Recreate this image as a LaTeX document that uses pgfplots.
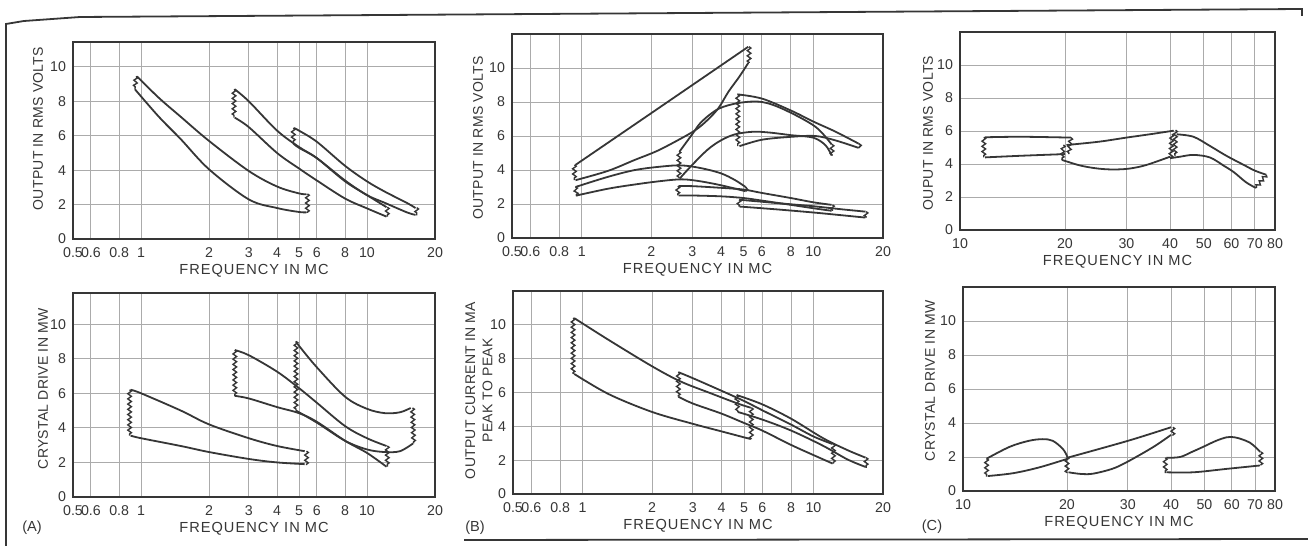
\documentclass[border=0pt]{standalone}
\usepackage{fontspec}
\setmainfont{Liberation Sans}
\usepackage{pgfplots}
\pgfplotsset{compat=1.18}
\usetikzlibrary{decorations.pathmorphing}
\definecolor{ink}{HTML}{363636}
\definecolor{gridc}{HTML}{ABABAB}
\newfontfamily\xlabfont[LetterSpace=7]{Liberation Sans}
\newfontfamily\ylabfont[LetterSpace=2]{Liberation Sans}
\pgfplotsset{
  panel/.style={
    scale only axis, ymin=0,
    axis line style={draw=ink, line width=0.75pt},
    grid=major, major grid style={draw=gridc, line width=0.45pt},
    major tick length=0pt, minor tick length=0pt,
    ytick={0,2,4,6,8,10}, yticklabels={0,2,4,6,8,10},
    tick label style={font=\fontsize{7.1}{7.5}\selectfont, text=ink},
    xlabel style={font=\xlabfont\fontsize{7.3}{8.6}\selectfont, text=ink,
      at={(axis description cs:0.5,0)}, anchor=center, yshift=-15.8pt},
    ylabel style={font=\ylabfont\fontsize{7}{8.6}\selectfont, text=ink},
    xticklabel style={yshift=-0.8pt},
  },
  lowx/.style={xmin=0.5, xmax=20, xtick={0.5,0.6,0.8,1,2,3,4,5,6,8,10,20},
    xticklabels={0.5,0.6,0.8,1,2,3,4,5,6,8,10,20}},
  highx/.style={xmin=10, xmax=80, xtick={10,20,30,40,50,60,70,80},
    xticklabels={10,20,30,40,50,60,70,80}},
  crv/.style={draw=ink, line width=0.9pt, smooth, tension=0.55, mark=none},
  zz/.style={draw=ink, line width=0.7pt, mark=none, decorate,
    decoration={zigzag, segment length=2.6pt, amplitude=0.9pt}},
  sh/.style={draw=ink, line width=0.8pt, sharp plot, mark=none},
}
\begin{document}
\begin{tikzpicture}
\path[use as bounding box] (0,0) rectangle (654pt,273pt);
% outer frame of the page
\draw[ink, line width=0.9pt] (3pt,0pt) -- (3pt,261pt) -- (12pt,262.5pt) -- (40pt,264.5pt) -- (651pt,268.5pt) -- (651pt,265pt);
\draw[ink, line width=0.9pt] (232pt,3pt) -- (654pt,3.5pt);

% ---------------- Top left ----------------
\begin{semilogxaxis}[panel, lowx, at={(36.5pt,153.5pt)}, anchor=south west,
  width=181pt, height=98.5pt, ymax=11.45,
  xlabel={FREQUENCY IN MC}, ylabel={OUTPUT IN RMS VOLTS},
  ylabel style={at={([xshift=-17.5pt]axis description cs:0,0.56)}, anchor=center}]
\addplot[crv] coordinates {(0.96,9.45) (1.2,8.2) (1.5,7.1) (2,5.7) (3,3.95) (4,3.05) (5,2.65) (5.4,2.6)};
\addplot[crv] coordinates {(0.94,8.7) (1.2,7.1) (1.5,5.8) (2,4.05) (3,2.3) (4,1.8) (5,1.57) (5.4,1.55)};
\addplot[zz] coordinates {(0.95,9.45) (0.94,8.7)};
\addplot[zz] coordinates {(5.45,2.62) (5.45,1.52)};
\addplot[crv] coordinates {(2.6,8.7) (3,8.0) (4,6.3) (5,5.35) (6,4.7) (8,3.35) (10,2.55) (12.2,1.85)};
\addplot[crv] coordinates {(2.6,7.05) (3,6.5) (4,5.0) (5,4.1) (6,3.4) (8,2.35) (10,1.78) (12.2,1.3)};
\addplot[zz] coordinates {(2.58,8.7) (2.58,7.05)};
\addplot[zz] coordinates {(12.3,1.85) (12.3,1.3)};
\addplot[crv] coordinates {(4.75,6.45) (5,6.3) (6,5.65) (8,4.25) (10,3.35) (12,2.75) (15,2.1) (16.4,1.8)};
\addplot[crv] coordinates {(4.72,5.55) (5,5.3) (6,4.7) (8,3.4) (10,2.55) (12,2.1) (15,1.55) (16.4,1.4)};
\addplot[zz] coordinates {(4.72,6.45) (4.72,5.55)};
\addplot[zz] coordinates {(16.6,1.82) (16.6,1.38)};
\end{semilogxaxis}

% ---------------- Top middle ----------------
\begin{semilogxaxis}[panel, lowx, at={(256pt,154pt)}, anchor=south west,
  width=185.5pt, height=102pt, ymax=12,
  xlabel={FREQUENCY IN MC}, ylabel={OUTPUT IN RMS VOLTS},
  ylabel style={at={([xshift=-17pt]axis description cs:0,0.49)}, anchor=center}]
% loop A
\addplot[crv] coordinates {(0.94,4.3) (2,7.35) (5.24,11.25)};
\addplot[crv] coordinates {(0.94,3.4) (1.3,3.95) (1.7,4.6) (2.1,5.1) (2.6,5.75) (3.1,6.35) (3.5,6.95) (3.9,7.65) (4.3,8.6) (4.8,9.5) (5.24,10.3)};
\addplot[zz] coordinates {(0.93,4.3) (0.93,3.4)};
\addplot[zz] coordinates {(5.28,11.25) (5.28,10.3)};
% loop B
\addplot[crv] coordinates {(0.94,3.0) (1.3,3.6) (1.7,4.0) (2.2,4.2) (2.7,4.27) (3.3,4.1) (4,3.8) (4.6,3.4) (5.1,3.0)};
\addplot[crv] coordinates {(0.95,2.5) (1.3,2.9) (1.7,3.15) (2.2,3.35) (2.7,3.45) (3.2,3.35) (4,3.1) (5.1,2.75)};
\addplot[zz] coordinates {(0.94,3.0) (0.95,2.45)};
\addplot[sh] coordinates {(5.1,3.0) (5.2,2.85) (5.1,2.75)};
% loop C
\addplot[crv] coordinates {(2.65,5.1) (3,6.1) (3.3,6.85) (3.9,7.6) (4.8,7.95) (6,8.0) (7.5,7.55) (10.2,6.55) (12,5.5)};
\addplot[crv] coordinates {(2.65,3.5) (3,4.3) (3.5,5.2) (4,5.75) (4.6,6.1) (5.5,6.25) (6.5,6.2) (8,6.05) (10,5.9) (11.3,5.45) (12,4.85)};
\addplot[zz] coordinates {(2.63,5.1) (2.63,3.5)};
\addplot[zz] coordinates {(12.05,5.5) (12.05,4.85)};
% loop D
\addplot[crv] coordinates {(4.7,8.45) (6,8.2) (8,7.5) (10,6.85) (12.4,6.27) (15.7,5.55)};
\addplot[crv] coordinates {(4.8,5.4) (6,5.78) (8,5.95) (10.2,6.0) (12.4,5.75) (15.7,5.3)};
\addplot[zz] coordinates {(4.72,8.45) (4.72,5.4)};
\addplot[sh] coordinates {(15.7,5.55) (16.1,5.45) (15.7,5.3)};
% loop E
\addplot[crv] coordinates {(2.62,3.05) (3,3.05) (4,2.95) (5,2.85) (6,2.65) (8,2.35) (10,2.1) (12,1.95)};
\addplot[crv] coordinates {(2.62,2.5) (3,2.5) (4,2.45) (5,2.35) (6,2.2) (8,1.95) (10,1.75) (12,1.6)};
\addplot[zz] coordinates {(2.6,3.05) (2.6,2.5)};
\addplot[zz] coordinates {(12.1,1.95) (12.1,1.6)};
% loop F
\addplot[crv] coordinates {(4.8,2.25) (7,2.05) (9.8,1.88) (13,1.7) (16.8,1.55)};
\addplot[crv] coordinates {(4.8,1.85) (7,1.68) (10,1.5) (13,1.35) (16.8,1.2)};
\addplot[zz] coordinates {(4.78,2.25) (4.78,1.85)};
\addplot[zz] coordinates {(16.9,1.55) (16.9,1.2)};
\end{semilogxaxis}

% ---------------- Top right ----------------
\begin{semilogxaxis}[panel, highx, at={(480pt,158pt)}, anchor=south west,
  width=157.5pt, height=99pt, ymax=12,
  xlabel={FREQUENCY IN MC}, ylabel={OUPUT IN RMS VOLTS},
  ylabel style={at={([xshift=-16pt]axis description cs:0,0.49)}, anchor=center}]
\addplot[crv] coordinates {(11.8,5.62) (15,5.65) (20.8,5.6)};
\addplot[crv] coordinates {(11.8,4.4) (15,4.5) (20,4.6)};
\addplot[zz] coordinates {(11.7,5.62) (11.7,4.4)};
\addplot[zz] coordinates {(20.8,5.6) (20.5,4.6)};
\addplot[crv] coordinates {(20.2,5.15) (25,5.35) (30,5.6) (35,5.8) (41,6.02)};
\addplot[crv] coordinates {(19.6,4.25) (22,3.92) (24.5,3.74) (27,3.67) (30,3.7) (33,3.85) (35.5,4.05) (40,4.44)};
\addplot[zz] coordinates {(19.8,5.15) (19.6,4.25)};
\addplot[zz] coordinates {(41.5,6.05) (41.3,4.5)};
\addplot[crv] coordinates {(41.8,5.8) (46.7,5.65) (52,5.1) (58,4.5) (65,3.95) (70,3.6) (75.5,3.35)};
\addplot[crv] coordinates {(40,4.35) (42.7,4.44) (46.7,4.55) (52,4.4) (57,3.9) (61,3.5) (66,2.9) (70.5,2.55)};
\addplot[zz] coordinates {(40.5,5.8) (40.2,4.35)};
\addplot[zz] coordinates {(75.5,3.35) (70.5,2.55)};
\end{semilogxaxis}

% ---------------- Bottom left ----------------
\begin{semilogxaxis}[panel, lowx, at={(36.5pt,24.5pt)}, anchor=south west,
  width=181pt, height=102pt, ymax=11.8,
  xlabel={FREQUENCY IN MC}, ylabel={CRYSTAL DRIVE IN MW},
  ylabel style={at={([xshift=-15pt]axis description cs:0,0.53)}, anchor=center}]
\addplot[crv] coordinates {(0.9,6.2) (1,6.0) (1.5,5.0) (2,4.2) (3,3.4) (4,2.95) (5.3,2.65)};
\addplot[crv] coordinates {(0.9,3.55) (1,3.4) (1.5,2.95) (2,2.6) (3,2.2) (4,2.0) (5.3,1.9)};
\addplot[zz] coordinates {(0.89,6.2) (0.89,3.55)};
\addplot[zz] coordinates {(5.4,2.65) (5.4,1.85)};
\addplot[crv] coordinates {(2.6,8.5) (3,8.2) (4,7.25) (5,6.3) (6,5.45) (8,4.1) (10,3.4) (12.2,2.95)};
\addplot[crv] coordinates {(2.6,5.85) (3,5.7) (4,5.2) (5,4.85) (6,4.35) (8,3.25) (10,2.55) (12.2,1.75)};
\addplot[zz] coordinates {(2.6,8.5) (2.6,5.85)};
\addplot[zz] coordinates {(12.3,2.95) (12.3,1.75)};
\addplot[crv] coordinates {(4.85,9.0) (5,8.75) (6,7.5) (8,5.8) (10,5.1) (12,4.85) (14,4.9) (15.6,5.15)};
\addplot[crv] coordinates {(4.85,5.0) (6,4.3) (8,3.25) (10,2.75) (12,2.6) (14,2.65) (16,3.1)};
\addplot[zz] coordinates {(4.85,9.0) (4.85,5.0)};
\addplot[zz] coordinates {(15.9,5.15) (16.1,3.1)};
\end{semilogxaxis}

% ---------------- Bottom middle ----------------
\begin{semilogxaxis}[panel, lowx, at={(256.5pt,26pt)}, anchor=south west,
  width=185pt, height=101.5pt, ymax=12,
  xlabel={FREQUENCY IN MC}, ylabel={OUTPUT CURRENT IN MA\\PEAK TO PEAK},
  ylabel style={at={([xshift=-17pt]axis description cs:0,0.51)}, anchor=center, align=center}]
\addplot[crv] coordinates {(0.92,10.4) (1.3,9.1) (2,7.55) (2.66,6.65) (3.58,5.96) (4.67,5.36) (5.35,5.1)};
\addplot[crv] coordinates {(0.92,7.1) (1.3,5.9) (2,4.85) (3,4.15) (4,3.7) (5,3.35) (5.35,3.25)};
\addplot[zz] coordinates {(0.91,10.4) (0.91,7.1)};
\addplot[zz] coordinates {(5.38,5.1) (5.38,3.25)};
\addplot[crv] coordinates {(2.6,7.2) (3,6.85) (4,6.1) (5,5.5) (6,4.95) (8,4.1) (10,3.4) (12.1,2.95)};
\addplot[crv] coordinates {(2.6,5.75) (3,5.35) (4,4.75) (5,4.2) (6,3.75) (8,2.9) (10,2.3) (12.1,1.8)};
\addplot[zz] coordinates {(2.6,7.2) (2.6,5.75)};
\addplot[zz] coordinates {(12.2,2.95) (12.2,1.8)};
\addplot[crv] coordinates {(4.65,5.85) (6,5.3) (8,4.45) (11,3.3) (14,2.6) (16.8,2.15)};
\addplot[crv] coordinates {(4.7,4.85) (6,4.4) (8,3.75) (11,2.85) (14,2.05) (16.8,1.6)};
\addplot[zz] coordinates {(4.65,5.85) (4.7,4.85)};
\addplot[zz] coordinates {(16.9,2.15) (16.9,1.55)};
\end{semilogxaxis}

% ---------------- Bottom right ----------------
\begin{semilogxaxis}[panel, highx, at={(481.5pt,27.5pt)}, anchor=south west,
  width=156pt, height=102pt, ymax=12,
  xlabel={FREQUENCY IN MC}, ylabel={CRYSTAL DRIVE IN MW},
  ylabel style={at={([xshift=-16.5pt]axis description cs:0,0.54)}, anchor=center}]
\addplot[crv] coordinates {(11.7,1.9) (13.65,2.6) (15.5,2.95) (17,3.05) (18.2,2.95) (19.5,2.45) (20.1,1.95)};
\addplot[crv] coordinates {(11.8,0.88) (14,1.05) (16.7,1.4) (20.1,1.9)};
\addplot[zz] coordinates {(11.7,1.9) (11.7,0.85)};
\addplot[crv] coordinates {(20,1.95) (30,2.95) (40,3.75)};
\addplot[crv] coordinates {(20.2,1.1) (22,1.0) (23.8,1.02) (27,1.3) (29.8,1.7) (35.5,2.58) (40,3.3)};
\addplot[zz] coordinates {(20,2.0) (20,1.05)};
\addplot[zz] coordinates {(40.5,3.75) (40.5,3.25)};
\addplot[crv] coordinates {(38.8,1.95) (42.5,2.0) (46,2.3) (49.6,2.6) (54,2.95) (58,3.16) (61,3.16) (64,3.05) (67.6,2.85) (70.5,2.55) (72.5,2.3)};
\addplot[crv] coordinates {(38.8,1.1) (46.4,1.1) (57.9,1.3) (72.3,1.5)};
\addplot[zz] coordinates {(38.5,1.95) (38.5,1.05)};
\addplot[zz] coordinates {(72.8,2.3) (72.8,1.5)};
\end{semilogxaxis}

% panel letters
\node[font=\fontsize{7.3}{8}\selectfont, text=ink] at (16pt,9pt) {(A)};
\node[font=\fontsize{7.3}{8}\selectfont, text=ink] at (237.5pt,9pt) {(B)};
\node[font=\fontsize{7.3}{8}\selectfont, text=ink] at (466pt,9.5pt) {(C)};
\end{tikzpicture}
\end{document}
